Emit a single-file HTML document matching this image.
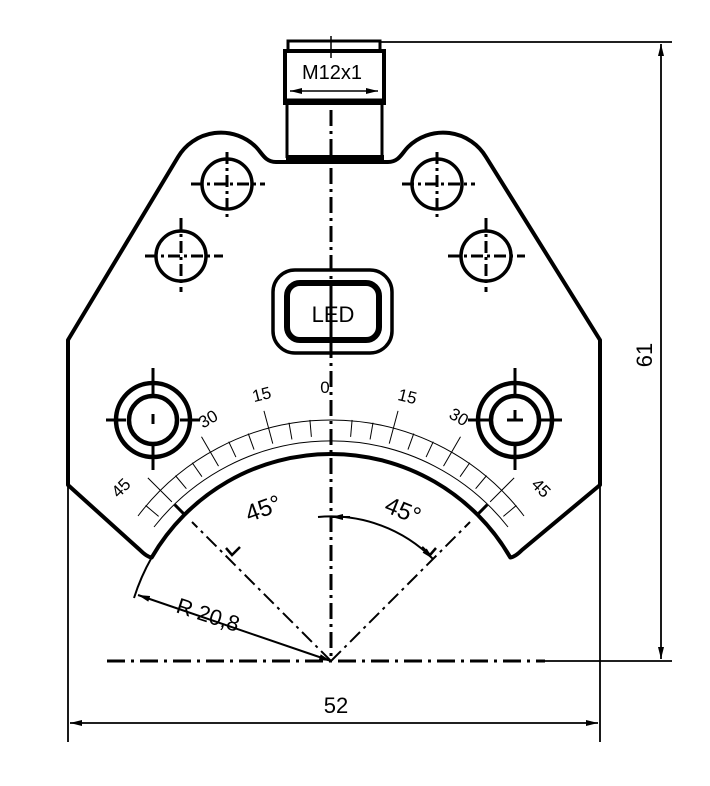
<!DOCTYPE html>
<html><head><meta charset="utf-8"><style>
html,body{margin:0;padding:0;background:#fff;}
svg{display:block;}
text{font-family:"Liberation Sans",sans-serif;fill:#000;}
</style></head><body>
<svg width="710" height="786" viewBox="0 0 710 786" xmlns="http://www.w3.org/2000/svg">
<defs>
<marker id="ar" viewBox="0 0 12 6" refX="12" refY="3" markerWidth="12" markerHeight="6" orient="auto-start-reverse" markerUnits="userSpaceOnUse"><path d="M0,0 L12,3 L0,6 Z" fill="#000"/></marker>
</defs>
<g fill="none" stroke="#000">
<path d="M68,485 L68,340 L178,157 A50 50 0 0 1 256,147 C262,153 265,162 276,162 L388,162 C399,162 402,153 408,147 A50 50 0 0 1 486,157 L600,340 L600,485 L522,550 Q515,557 510.3,557.5 A207 207 0 0 0 151.7,557.5 Q147,557 140,550 Z" stroke-width="4" stroke-linejoin="round"/>
<rect x="288" y="41" width="92" height="10" stroke-width="3"/>
<rect x="285" y="51" width="99" height="52" stroke-width="4"/>
<line x1="285" y1="100" x2="384" y2="100" stroke-width="3"/>
<line x1="290" y1="91" x2="378" y2="91" stroke-width="1.5" marker-start="url(#ar)" marker-end="url(#ar)"/>
<path d="M287,103 L287,158 M382,103 L382,158" stroke-width="3"/>
<line x1="286" y1="158" x2="384" y2="158" stroke-width="6"/>
<line x1="331" y1="36" x2="331" y2="58" stroke-width="1.5"/>
<line x1="331" y1="110" x2="331" y2="661" stroke-width="3" stroke-dasharray="16 5 3 5"/>
<line x1="107" y1="661" x2="545" y2="661" stroke-width="3" stroke-dasharray="18 6 3 6"/>
<line x1="331" y1="661" x2="192" y2="522" stroke-width="2" stroke-dasharray="14 5 3 5"/>
<line x1="331" y1="661" x2="470" y2="522" stroke-width="2" stroke-dasharray="14 5 3 5"/>
<path d="M226,548 L232,555 L240,547" stroke-width="2.5"/>
<path d="M436,548 L430,555 L422,547" stroke-width="2.5"/>
<path d="M318,517 A144 144 0 0 1 433,559" stroke-width="2" marker-end="url(#ar)"/>
<line x1="331" y1="517" x2="350" y2="517" stroke-width="2" marker-start="url(#ar)"/>
<path d="M151.7,557.5 A207 207 0 0 0 134,598" stroke-width="2"/>
<line x1="138" y1="595" x2="331" y2="661" stroke-width="2" marker-start="url(#ar)" marker-end="url(#ar)"/>
<path d="M154,527 A225 225 0 0 1 508,527" stroke-width="1"/>
<path d="M138,516 A242 242 0 0 1 524,516" stroke-width="1"/>
<g stroke-width="1">
<line x1="331" y1="436" x2="331" y2="419" transform="rotate(-50 331 661)"/>
<line x1="331" y1="436" x2="331" y2="402" transform="rotate(-45 331 661)"/>
<line x1="331" y1="436" x2="331" y2="419" transform="rotate(-40 331 661)"/>
<line x1="331" y1="436" x2="331" y2="419" transform="rotate(-35 331 661)"/>
<line x1="331" y1="436" x2="331" y2="402" transform="rotate(-30 331 661)"/>
<line x1="331" y1="436" x2="331" y2="419" transform="rotate(-25 331 661)"/>
<line x1="331" y1="436" x2="331" y2="419" transform="rotate(-20 331 661)"/>
<line x1="331" y1="436" x2="331" y2="402" transform="rotate(-15 331 661)"/>
<line x1="331" y1="436" x2="331" y2="419" transform="rotate(-10 331 661)"/>
<line x1="331" y1="436" x2="331" y2="419" transform="rotate(-5 331 661)"/>
<line x1="331" y1="436" x2="331" y2="419" transform="rotate(5 331 661)"/>
<line x1="331" y1="436" x2="331" y2="419" transform="rotate(10 331 661)"/>
<line x1="331" y1="436" x2="331" y2="402" transform="rotate(15 331 661)"/>
<line x1="331" y1="436" x2="331" y2="419" transform="rotate(20 331 661)"/>
<line x1="331" y1="436" x2="331" y2="419" transform="rotate(25 331 661)"/>
<line x1="331" y1="436" x2="331" y2="402" transform="rotate(30 331 661)"/>
<line x1="331" y1="436" x2="331" y2="419" transform="rotate(35 331 661)"/>
<line x1="331" y1="436" x2="331" y2="419" transform="rotate(40 331 661)"/>
<line x1="331" y1="436" x2="331" y2="402" transform="rotate(45 331 661)"/>
<line x1="331" y1="436" x2="331" y2="419" transform="rotate(50 331 661)"/>
</g>
<g stroke-width="3">
<line x1="331" y1="454" x2="331" y2="440" transform="rotate(-45 331 661)"/>
<line x1="331" y1="454" x2="331" y2="440" transform="rotate(45 331 661)"/>
</g>
<g stroke-width="3.5">
<circle cx="227" cy="184" r="25"/>
<circle cx="437" cy="184" r="25"/>
<circle cx="181" cy="256" r="25"/>
<circle cx="486" cy="256" r="25"/>
</g>
<g stroke-width="3" stroke-dasharray="12 4 3 4">
<path d="M191,184 L265,184 M227,152 L227,218"/>
<path d="M402,184 L475,184 M437,152 L437,218"/>
<path d="M145,256 L223,256 M181,218 L181,292"/>
<path d="M448,256 L525,256 M486,218 L486,292"/>
</g>
<g stroke-width="4.5">
<circle cx="153" cy="420" r="37"/>
<circle cx="153" cy="420" r="24"/>
<circle cx="515" cy="420" r="37"/>
<circle cx="515" cy="420" r="24"/>
</g>
<g stroke-width="3">
<path d="M106,420 L126,420 M180,420 L200,420 M153,368 L153,396 M153,444 L153,470"/>
<path d="M468,420 L490,420 M540,420 L562,420 M515,368 L515,396 M515,444 L515,470"/>
<path d="M153,414 L153,424 M507,420 L523,420 M515,410 L515,420"/>
</g>
<rect x="273" y="270" width="119" height="83" rx="22" stroke-width="3.5"/>
<rect x="287" y="283" width="92" height="57" rx="13" stroke-width="6"/>
<g stroke-width="1.8">
<line x1="380" y1="42" x2="672" y2="42"/>
<line x1="545" y1="661" x2="672" y2="661"/>
<line x1="661" y1="44" x2="661" y2="659" marker-start="url(#ar)" marker-end="url(#ar)"/>
<line x1="68" y1="485" x2="68" y2="742"/>
<line x1="600" y1="485" x2="600" y2="742"/>
<line x1="70" y1="723" x2="598" y2="723" marker-start="url(#ar)" marker-end="url(#ar)"/>
</g>
</g>
<text x="332" y="79" font-size="20" text-anchor="middle">M12x1</text>
<text x="333" y="322" font-size="22" text-anchor="middle">LED</text>
<line x1="331" y1="298" x2="331" y2="340" stroke="#000" stroke-width="3"/>
<text x="336" y="713" font-size="22" text-anchor="middle">52</text>
<text font-size="22" text-anchor="middle" transform="translate(652,355) rotate(-90)">61</text>
<text font-size="22" transform="translate(175,612) rotate(18)">R 20,8</text>
<text font-size="24" text-anchor="middle" transform="translate(266,516) rotate(-20)">45°</text>
<text font-size="24" text-anchor="middle" transform="translate(400,518) rotate(22)">45°</text>
<g font-size="17" text-anchor="middle">
<text transform="translate(325,393)">0</text>
<text transform="translate(263,400) rotate(-14)">15</text>
<text transform="translate(211,424) rotate(-30)">30</text>
<text transform="translate(125,492) rotate(-45)">45</text>
<text transform="translate(406,402) rotate(14)">15</text>
<text transform="translate(456,422) rotate(30)">30</text>
<text transform="translate(537,492) rotate(45)">45</text>
</g>
</svg>
</body></html>
